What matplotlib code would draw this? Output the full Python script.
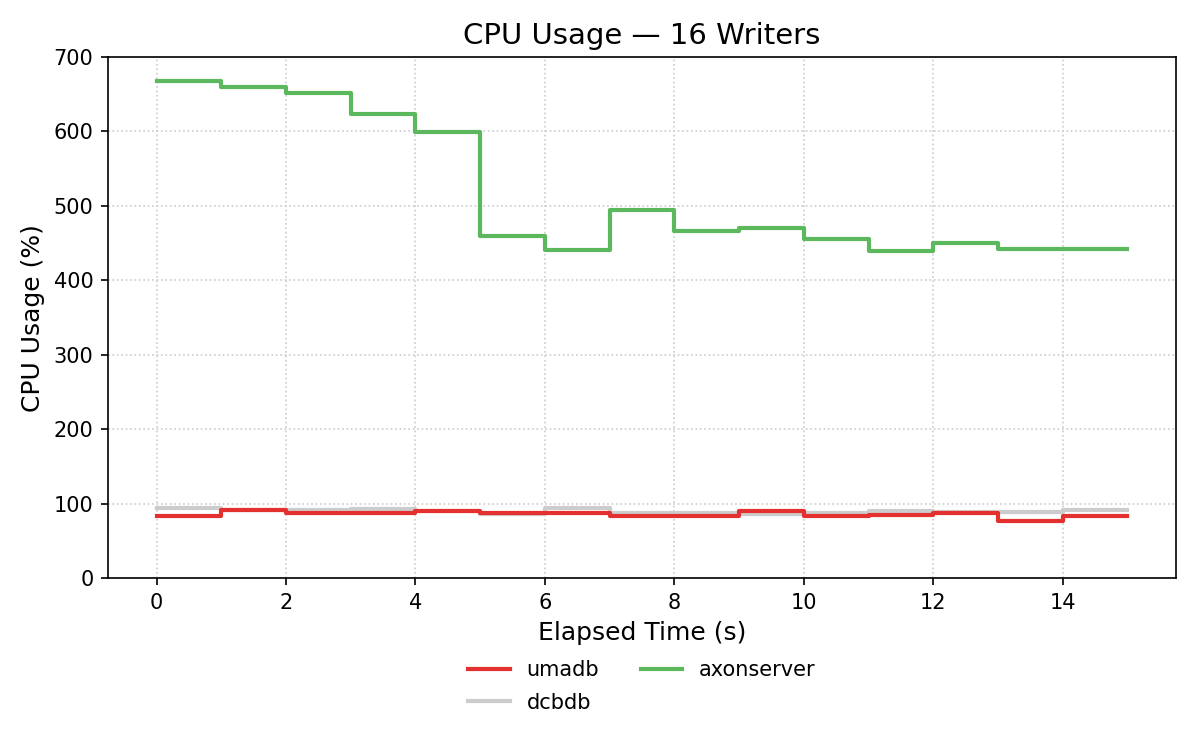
import matplotlib
matplotlib.use("Agg")
import matplotlib.pyplot as plt

elapsed = [0, 1, 2, 3, 4, 5, 6, 7, 8, 9, 10, 11, 12, 13, 14, 15]
umadb = [83, 92, 87, 88, 90, 87, 87, 84, 84, 90, 84, 85.5, 87, 77, 84, 84]
dcbdb = [95, 91, 92, 93, 90, 86, 94, 88, 88, 86, 87, 90, 89, 89, 92, 92]
axonserver = [668, 660, 652, 623, 599, 460, 441, 495, 466, 471, 456, 439, 450, 441.5, 441.5, 441.5]

fig, ax = plt.subplots(figsize=(8, 5), dpi=150)
fig.subplots_adjust(left=0.09, right=0.98, top=0.924, bottom=0.229)

ax.step(elapsed, umadb, where="post", color="#e53030", linewidth=2, label="umadb", zorder=3)
ax.step(elapsed, dcbdb, where="post", color="#cccccc", linewidth=2, label="dcbdb", zorder=2)
ax.step(elapsed, axonserver, where="post", color="#5cb85c", linewidth=2, label="axonserver", zorder=3)

ax.set_ylim(0, 700)
ax.set_xlim(-0.75, 15.75)
ax.set_xticks(range(0, 15, 2))
ax.grid(True, linestyle=":", color="#cccccc", linewidth=0.8)
ax.set_axisbelow(True)
ax.tick_params(labelsize=10)
ax.set_xlabel("Elapsed Time (s)", fontsize=12)
ax.set_ylabel("CPU Usage (%)", fontsize=12)
ax.set_title("CPU Usage — 16 Writers", fontsize=14)
ax.legend(loc="upper center", bbox_to_anchor=(0.5, -0.121), ncol=2, frameon=False,
          fontsize=10, labelspacing=0.6)

fig.savefig("out.png", dpi=150)
